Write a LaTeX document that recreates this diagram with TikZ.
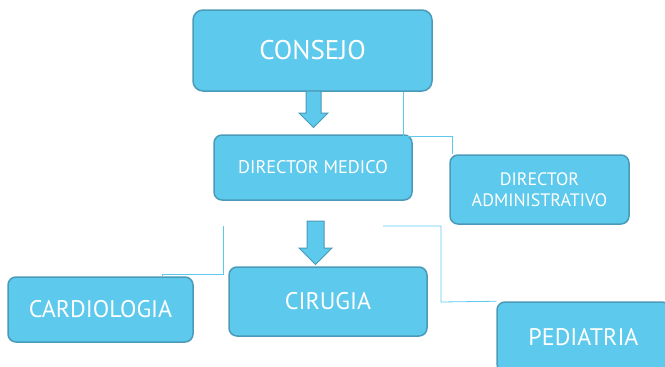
\documentclass[tikz,border=0pt]{standalone}
\usepackage{fontspec}
\setmainfont{PT Sans}
\definecolor{boxfill}{HTML}{5DC9EC}
\definecolor{boxline}{HTML}{4A9AB8}
\definecolor{linkblue}{HTML}{5BC8EC}
\begin{document}
\begin{tikzpicture}[x=1pt,y=-1pt,
    box/.style={draw=boxline,fill=boxfill,line width=1.5pt,rounded corners=8pt,
      text=white,align=center,inner sep=0pt},
    link/.style={draw=linkblue,line width=0.8pt},
    blockarrow/.style={draw=boxline,fill=boxfill,line width=1pt,line join=miter}]
  \useasboundingbox (0,0) rectangle (665,367);
  \clip (0,0) rectangle (665,367);
  % boxes
  \node[box,rounded corners=10pt,minimum width=239pt,minimum height=81pt,font=\fontsize{27}{30}\selectfont]
    (consejo) at (312.5,50.5) {CONSEJO};
  \node[box,minimum width=198pt,minimum height=65pt,font=\fontsize{18.3}{21}\selectfont]
    (medico) at (313,167.5) {DIRECTOR MEDICO};
  \node[box,minimum width=179pt,minimum height=69pt,font=\fontsize{18}{21.5}\selectfont]
    (admin) at (539.5,189.5) {DIRECTOR\\ADMINISTRATIVO};
  \node[box,minimum width=198pt,minimum height=69pt,font=\fontsize{24}{28}\selectfont]
    (cirugia) at (328,301.5) {CIRUGIA};
  \node[box,minimum width=185pt,minimum height=65pt,font=\fontsize{24}{28}\selectfont]
    (cardio) at (100.5,309.5) {CARDIOLOGIA};
  \node[box,minimum width=173pt,minimum height=70pt,font=\fontsize{24}{28}\selectfont]
    (pediatria) at (583.5,337) {PEDIATRIA};
  % block arrows
  \foreach \x/\t/\h/\s/\e in {313.5/91/113/7.5/14.5, 315.5/221/248/8.5/16.5}
    \draw[blockarrow] (\x-\s,\t) -- (\x-\s,\h) -- (\x-\e,\h) -- (\x,\h+\e)
      -- (\x+\e,\h) -- (\x+\s,\h) -- (\x+\s,\t) -- cycle;
  % connectors
  \coordinate (lstart) at (223,226);
  \coordinate (rstart) at (383,226);
  \draw[link] (consejo.south -| 403,0) |- (452,136) -- (452,0 |- admin.north);
  \draw[link] (lstart) |- (162,274) -- (162,0 |- cardio.north);
  \draw[link] (rstart) -| (441,302) -- (pediatria.north west);
\end{tikzpicture}
\end{document}
